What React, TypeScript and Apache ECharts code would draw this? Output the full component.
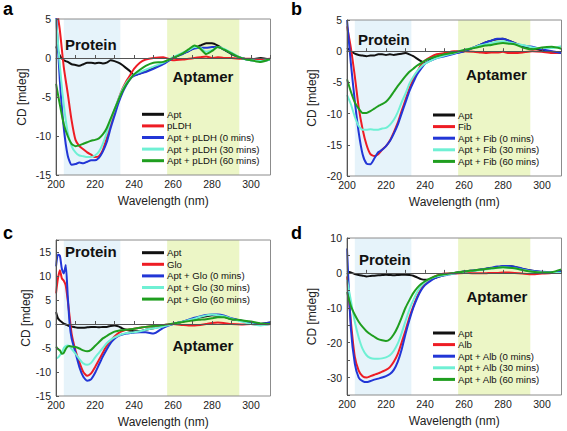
import React, { useEffect, useRef } from "react";
import * as echarts from "echarts";

// ---------- data ----------
const WL = [200,202,204,206,208,210,212,214,216,218,220,222,224,226,228,230,232,234,236,238,240,243,246,250,255,260,265,268,271,274,277,280,283,286,290,295,300,305,310];
const WL_C = [200,201,202,203,204,205,206,207,208,210,212,214,216,218,220,222,224,226,228,230,232,234,236,238,240,243,246,250,255,260,265,268,271,274,277,280,283,286,290,295,300,305,310];

// panel a (pLDH)
const A_APT = [1.5,0.3,-0.3,-0.5,-0.8,-0.9,-1.0,-0.8,-0.6,-0.6,-0.7,-0.6,-0.7,-0.6,-0.3,-0.4,-0.6,-0.9,-1.3,-1.7,-2.2,-2.0,-1.7,-1.3,-0.7,0.0,0.6,0.9,1.3,1.6,1.9,1.9,1.6,1.1,0.5,0.0,-0.2,0.0,-0.2];
const A_PROT = [7,3.5,-1.2,-4.5,-8,-10.5,-11.3,-11.7,-12.1,-12.4,-12.7,-12.6,-11.8,-10.3,-8.6,-6.8,-5.3,-4.0,-3.0,-2.2,-1.4,-0.6,-0.2,0.0,0.1,-0.3,-0.2,-0.1,0.0,0.1,0.2,0.0,0.1,0.0,0.0,-0.1,-0.1,-0.2,-0.1];
const A_0 = [6,-3,-9,-12.5,-13.7,-13.6,-13.4,-13.5,-13.3,-13.1,-13.1,-12.8,-12.0,-10.8,-9.0,-7.4,-5.8,-4.5,-3.5,-2.7,-2.3,-2.0,-1.8,-1.4,-0.8,0.0,0.5,0.9,1.2,1.3,1.3,1.4,1.4,1.1,0.6,0.0,-0.3,-0.4,-0.2];
const A_30 = [5,-1,-6,-9.5,-11.3,-12.1,-12.5,-12.6,-12.7,-12.7,-12.5,-12.0,-11.0,-9.6,-8.0,-6.6,-5.3,-4.1,-3.2,-2.6,-2.1,-1.8,-1.5,-1.1,-0.6,0.1,0.7,1.0,1.4,1.3,0.8,1.0,1.4,1.2,0.7,0.0,-0.3,-0.4,-0.2];
const A_60 = [-3.3,-6,-8.5,-10,-11,-11.3,-11.2,-11.0,-10.8,-10.6,-10.5,-10.3,-9.8,-9.0,-7.8,-6.6,-5.4,-4.3,-3.4,-2.7,-2.1,-1.5,-1.0,-0.6,-0.5,0.0,0.6,1.1,1.6,1.2,0.5,0.9,1.4,1.1,0.6,0.0,-0.3,-0.5,-0.1];

// panel b (Fib)
const B_APT = [0.5,0.0,-0.4,-0.6,-0.7,-0.8,-0.7,-0.7,-0.5,-0.5,-0.6,-0.5,-0.6,-0.5,-0.4,-0.3,-0.5,-0.8,-1.2,-1.6,-1.9,-1.3,-0.9,-0.6,-0.3,0.0,0.6,1.0,1.4,1.7,1.9,2.0,1.7,1.3,0.8,0.5,0.1,-0.1,-0.3];
const B_PROT = [4,0.5,-4,-9,-12.5,-15,-16.5,-16.8,-16.5,-15.8,-15.2,-14.3,-13.0,-11.5,-9.6,-7.8,-6.0,-4.5,-3.3,-2.2,-1.5,-0.9,-0.5,-0.3,0.0,0.0,-0.1,-0.2,-0.3,-0.2,-0.2,-0.1,-0.3,-0.3,-0.2,0.0,-0.1,-0.3,-0.2];
const B_0 = [5,-2,-8,-13,-16.5,-18.0,-18.1,-17.2,-16.2,-15.8,-15.2,-14.4,-13.2,-11.8,-10.0,-8.2,-6.4,-5.0,-3.7,-2.8,-2.0,-1.5,-1.1,-0.8,-0.4,0.0,0.6,1.0,1.4,1.7,2.0,2.0,1.7,1.3,0.9,0.7,0.3,0.0,-0.3];
const B_30 = [-7,-8.5,-10.5,-12,-12.6,-12.6,-12.5,-12.6,-12.6,-12.4,-12.3,-11.8,-11.0,-9.8,-8.2,-6.8,-5.2,-4.1,-3.2,-2.5,-2.0,-1.5,-1.1,-0.7,-0.3,0.2,0.6,0.9,1.1,1.3,1.5,1.6,1.4,1.2,1.0,0.6,0.5,0.5,0.8];
const B_60 = [-4.5,-6.5,-8.2,-9.2,-9.9,-9.9,-9.6,-9.2,-8.8,-8.5,-8.1,-7.4,-6.5,-5.6,-4.8,-4.0,-3.3,-2.8,-2.3,-1.9,-1.5,-1.1,-0.8,-0.5,-0.2,0.2,0.5,0.7,0.9,1.0,1.2,1.3,1.2,1.1,0.6,0.3,0.6,0.7,0.4];

// panel c (Glo)
const C_APT = [2.5,1.2,0.7,0.4,0.1,-0.1,-0.3,-0.5,-0.5,-0.7,-0.8,-0.8,-0.7,-0.6,-0.6,-0.7,-0.6,-0.6,-0.4,-0.3,-0.5,-0.9,-1.2,-1.4,-1.5,-1.5,-1.2,-0.9,-0.4,0.0,0.5,0.8,1.1,1.4,1.6,1.8,1.7,1.5,1.0,0.7,0.3,0.0,0.3];
const C_PROT = [6.4,9.5,11.2,9.5,9,8,5,1.5,-2,-5.5,-8,-10,-10.8,-10.3,-9.0,-7.5,-6.0,-4.5,-3.5,-2.6,-1.9,-1.5,-1.2,-1.1,-1.0,-0.8,-0.6,-0.4,-0.2,0.0,-0.2,-0.3,-0.3,-0.2,0.0,0.2,0.3,0.2,0.0,-0.1,0.0,-0.2,0.0];
const C_0 = [12,14.5,14.2,11.5,10.5,12.3,6,0,-3,-6,-9,-11,-11.8,-11.5,-10.2,-8.5,-6.8,-5.3,-4.0,-3.1,-2.5,-2.2,-2.0,-1.9,-1.8,-1.7,-1.7,-2.0,-0.8,0.0,0.5,0.9,1.3,1.6,1.9,2.0,2.0,1.8,1.2,0.7,0.3,0.0,0.3];
const C_30 = [-7.2,-7,-6.5,-6,-5,-4.6,-4.5,-4.7,-5.2,-6.2,-7.3,-8.2,-8.5,-8.1,-7.0,-6.0,-5.0,-4.0,-3.3,-2.8,-2.4,-2.1,-1.9,-1.8,-1.7,-1.5,-1.2,-0.9,-0.5,0.0,0.5,0.8,1.1,1.5,1.8,2.0,1.8,1.6,1.1,0.5,0.0,-0.3,0.0];
const C_60 = [-4.7,-5.2,-5.5,-6.2,-6.0,-5.2,-4.7,-4.6,-4.7,-4.8,-5.1,-5.5,-5.7,-5.4,-4.6,-3.8,-3.0,-2.5,-2.0,-1.6,-1.4,-1.3,-1.2,-1.1,-1.0,-0.8,-0.6,-0.4,-0.2,0.1,0.4,0.6,0.8,0.9,1.0,1.2,1.4,1.4,1.0,0.8,0.5,0.1,0.0];

// panel d (Alb)
const D_APT = [0.5,0.1,-0.3,-0.6,-0.8,-1.0,-0.9,-0.8,-0.7,-0.6,-0.5,-0.6,-0.7,-0.6,-0.5,-0.5,-0.6,-0.8,-1.3,-1.8,-2.0,-1.8,-1.3,-0.6,0.0,0.4,0.7,0.9,1.1,1.4,1.6,1.9,2.0,1.7,1.1,0.6,0.2,0.1,0.5];
const D_PROT = [-1,-14,-24,-28,-29.6,-30.0,-29.6,-29.2,-28.8,-28.3,-27.8,-27.0,-25.5,-23.3,-20.0,-16.5,-12.8,-9.6,-6.8,-4.6,-3.0,-1.6,-0.8,-0.2,-0.2,0.0,-0.1,-0.1,-0.1,0.0,0.0,0.1,0.1,0.0,-0.2,-0.4,-0.2,0.0,0.0];
const D_0 = [7,-16,-26,-30,-31,-31.3,-31.0,-30.6,-30.3,-30.0,-29.6,-29.0,-27.8,-25.5,-22.0,-17.5,-13.5,-10.0,-7.2,-5.0,-3.5,-2.2,-1.3,-0.7,-0.2,0.4,0.7,0.9,1.2,1.5,1.8,2.0,2.0,1.8,1.2,0.6,0.3,0.2,0.5];
const D_30 = [-2,-8,-14,-18.5,-21.8,-23.6,-24.4,-24.6,-24.6,-24.5,-24.2,-23.6,-22.3,-20.3,-17.3,-13.8,-10.5,-7.8,-5.5,-3.8,-2.7,-1.6,-1.0,-0.6,-0.2,0.3,0.6,0.8,1.0,1.2,1.4,1.6,1.5,1.3,0.9,0.4,0.2,0.1,0.0];
const D_60 = [-5.5,-9.5,-12,-14,-15.5,-16.7,-17.6,-18.3,-19.0,-19.3,-19.5,-19.0,-17.6,-15.5,-12.8,-10.0,-7.8,-5.8,-4.3,-3.2,-2.4,-1.5,-0.8,-0.4,0.0,0.4,0.7,0.9,1.1,1.3,1.5,1.6,1.5,1.3,0.8,0.3,0.1,0.2,1.0];

const PANEL_LETTERS = ["a", "b", "c", "d"];
const PROTEINS = ["pLDH", "Fib", "Glo", "Alb"];
const PROTEIN_BAND = [204, 233];
const APTAMER_BAND = [257, 294];
const X_RANGE = [200, 310];
const Y_RANGES = [[-15, 5, 5], [-20, 5, 5], [-15, 17.5, 5], [-35, 10, 5]];
const Y_LABEL_STEP = [5, 5, 5, 10];
const PANEL_X = [WL, WL, WL_C, WL];
const PANEL_SERIES = [
  [A_APT, A_PROT, A_0, A_30, A_60],
  [B_APT, B_PROT, B_0, B_30, B_60],
  [C_APT, C_PROT, C_0, C_30, C_60],
  [D_APT, D_PROT, D_0, D_30, D_60],
];
const seriesNames = (p: string) => ["Apt", p, `Apt + ${p} (0 mins)`, `Apt + ${p} (30 mins)`, `Apt + ${p} (60 mins)`];

// ---------- style / layout ----------
const COLORS = ["#111111", "#ee1c24", "#2236d6", "#6ff0d4", "#1f9e1f"];
const BLUE_BG = "#e6f3fa";
const GREEN_BG = "#ecf6c6";
const FONT = '"Liberation Sans", Arial, Helvetica, sans-serif';
const GRIDS = [
  { left: 56, top: 19, width: 214.5, height: 156 },
  { left: 347, top: 20, width: 214.5, height: 156 },
  { left: 56, top: 240, width: 214.5, height: 156 },
  { left: 347, top: 238, width: 214.5, height: 157 },
];
const Y_NAME_GAP = [28, 29, 17, 29];
const LEGEND_POS = [
  { left: 142, top: 108.5 },
  { left: 433, top: 109.2 },
  { left: 142, top: 246.9 },
  { left: 433, top: 327.2 },
];
const LETTER_POS = [[3, 9], [291, 9], [3, 233], [291, 233]];
const PROTEIN_POS = [[65, 44], [358, 39.5], [65, 251.7], [359, 259.3]];
const APTAMER_POS = [[172.5, 76.7], [466, 74], [172.5, 345.7], [466.5, 296.7]];

export default function App() {
  const ref = useRef<HTMLDivElement>(null);
  useEffect(() => {
    if (!ref.current) return;
    const chart = echarts.init(ref.current, undefined, { renderer: "svg" });

    const axisLineStyle = { color: "#555", width: 1 };
    const grid = GRIDS.map((g) => ({
      ...g,
      show: true,
      borderColor: "#8c8c8c",
      borderWidth: 1,
      backgroundColor: "transparent",
      z: 3,
    }));
    const xAxis = GRIDS.map((_, i) => ({
      type: "value",
      gridIndex: i,
      min: X_RANGE[0],
      max: X_RANGE[1],
      interval: 10,
      z: 3,
      name: "Wavelength (nm)",
      nameLocation: "middle",
      nameGap: 20,
      nameTextStyle: { fontFamily: FONT, fontSize: 12, color: "#222" },
      axisLine: { show: true, lineStyle: axisLineStyle },
      axisTick: { show: true, inside: true, length: 3, lineStyle: axisLineStyle },
      splitLine: { show: false },
      axisLabel: {
        margin: 3,
        fontFamily: FONT,
        fontSize: 10.5,
        color: "#222",
        formatter: (v: number) => (v % 20 === 0 && v <= 300 ? String(v) : ""),
      },
    }));
    const yAxis = GRIDS.map((_, i) => ({
      type: "value",
      gridIndex: i,
      min: Y_RANGES[i][0],
      max: Y_RANGES[i][1],
      interval: Y_RANGES[i][2],
      z: 3,
      name: "CD [mdeg]",
      nameLocation: "middle",
      nameGap: Y_NAME_GAP[i],
      nameTextStyle: { fontFamily: FONT, fontSize: 12, color: "#222" },
      axisLine: { show: true, lineStyle: axisLineStyle },
      axisTick: { show: true, inside: true, length: 3, lineStyle: axisLineStyle },
      splitLine: { show: false },
      axisLabel: {
        margin: 5,
        fontFamily: FONT,
        fontSize: 10.5,
        color: "#222",
        formatter: (v: number) => (v % Y_LABEL_STEP[i] === 0 ? String(v) : ""),
      },
    }));

    const series: any[] = [];
    PANEL_SERIES.forEach((vals, i) => {
      series.push({
        type: "line",
        xAxisIndex: i,
        yAxisIndex: i,
        data: [],
        silent: true,
        markArea: {
          silent: true,
          z: 1,
          data: [
            [{ xAxis: PROTEIN_BAND[0], itemStyle: { color: BLUE_BG } }, { xAxis: PROTEIN_BAND[1] }],
            [{ xAxis: APTAMER_BAND[0], itemStyle: { color: GREEN_BG } }, { xAxis: APTAMER_BAND[1] }],
          ],
        },
      });
      const names = seriesNames(PROTEINS[i]);
      vals.forEach((arr, k) => {
        series.push({
          type: "line",
          name: names[k],
          xAxisIndex: i,
          yAxisIndex: i,
          z: 2,
          clip: true,
          showSymbol: false,
          smooth: 0.2,
          data: PANEL_X[i].map((x, j) => [x, arr[j]]),
          itemStyle: { color: COLORS[k] },
          lineStyle: { color: COLORS[k], width: 2 },
        });
      });
    });

    const legend = PROTEINS.map((p, i) => ({
      data: seriesNames(p),
      orient: "vertical",
      left: LEGEND_POS[i].left,
      top: LEGEND_POS[i].top,
      padding: 0,
      itemGap: 0,
      itemWidth: 22,
      itemHeight: 3,
      icon: "rect",
      selectedMode: false,
      textStyle: { fontFamily: FONT, fontSize: 9.6, lineHeight: 11.6, color: "#111", padding: [0, 0, 0, -2] },
    }));

    const graphic: any[] = [];
    PANEL_LETTERS.forEach((l, i) => {
      graphic.push({
        type: "text",
        x: LETTER_POS[i][0],
        y: LETTER_POS[i][1],
        style: { text: l, font: `bold 18px ${FONT}`, fill: "#000", textVerticalAlign: "middle" },
      });
      graphic.push({
        type: "text",
        x: PROTEIN_POS[i][0],
        y: PROTEIN_POS[i][1],
        z: 10,
        style: { text: "Protein", font: `bold 15px ${FONT}`, fill: "#111", textVerticalAlign: "middle" },
      });
      graphic.push({
        type: "text",
        x: APTAMER_POS[i][0],
        y: APTAMER_POS[i][1],
        z: 10,
        style: { text: "Aptamer", font: `bold 15px ${FONT}`, fill: "#111", textVerticalAlign: "middle" },
      });
    });

    chart.setOption({
      animation: false,
      backgroundColor: "#fff",
      grid,
      xAxis,
      yAxis,
      legend,
      series,
      graphic,
    });
    return () => chart.dispose();
  }, []);

  return (
    <div
      ref={ref}
      style={{ position: "absolute", left: 0, top: 0, width: 567, height: 431 }}
    />
  );
}
